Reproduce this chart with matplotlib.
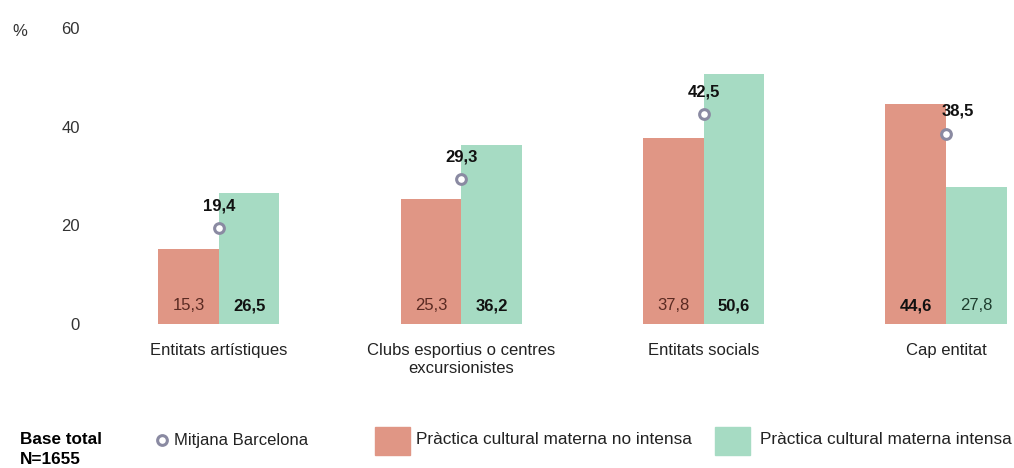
import matplotlib.pyplot as plt
from matplotlib.patches import Rectangle
from matplotlib.lines import Line2D

plt.rcParams['font.family'] = ['Liberation Sans', 'DejaVu Sans']

# dades
categories = ['Entitats artístiques', 'Clubs esportius o centres\nexcursionistes',
              'Entitats socials', 'Cap entitat']
no_intensa = [15.3, 25.3, 37.8, 44.6]
intensa = [26.5, 36.2, 50.6, 27.8]
mitjana = [19.4, 29.3, 42.5, 38.5]

c_red = '#E09685'
c_green = '#A6DBC3'
c_mark = '#8A8AA2'

fig = plt.figure(figsize=(10.14, 4.68), dpi=100)
ax = fig.add_axes([95/1014, 144/468, 915/1014, 296/468])

w = 0.25
x = list(range(len(categories)))
ax.bar([i - w/2 for i in x], no_intensa, w, color=c_red)
ax.bar([i + w/2 for i in x], intensa, w, color=c_green)
ax.plot(x, mitjana, 'o', ms=7, mfc='white', mec=c_mark, mew=2.2, ls='none')

def fmt(v):
    return ('%.1f' % v).replace('.', ',')

for i in x:
    a, b = no_intensa[i], intensa[i]
    ax.text(i - w/2, 3.7, fmt(a), ha='center', va='center', fontsize=12,
            fontweight='bold' if a > b else 'normal',
            color='#111111' if a > b else '#5a2a22')
    ax.text(i + w/2, 3.7, fmt(b), ha='center', va='center', fontsize=12,
            fontweight='bold' if b > a else 'normal',
            color='#111111' if b > a else '#1e3d2e')
    ax.text(i + (0.05 if i == 3 else 0), mitjana[i] + 4.6, fmt(mitjana[i]),
            ha='center', va='center', fontsize=12, fontweight='bold', color='#111111')

ax.set_xlim(-0.511, 3.264)
ax.set_ylim(0, 60)
ax.set_yticks([0, 20, 40, 60])
ax.set_xticks(x)
ax.set_xticklabels(categories, fontsize=12, color='#222222', va='top', linespacing=1.25)
ax.tick_params(axis='x', length=0, pad=14)
ax.tick_params(axis='y', length=0, pad=11, labelsize=12, labelcolor='#333333')
for s in ax.spines.values():
    s.set_visible(False)

fig.text(12/1014, 1 - 31/468, '%', fontsize=12, color='#333333', va='center')

# llegenda
fig.text(20/1014, 1 - 440/468, 'Base total', fontsize=12.3, fontweight='bold', va='center')
fig.text(20/1014, 1 - 460/468, 'N=1655', fontsize=12.3, fontweight='bold', va='center')
fig.add_artist(Line2D([162/1014], [1 - 440/468], marker='o', ms=7, mfc='white',
                      mec=c_mark, mew=2.2, transform=fig.transFigure))
fig.text(174/1014, 1 - 440/468, 'Mitjana Barcelona', fontsize=12, va='center', color='#222222')
fig.add_artist(Rectangle((375/1014, 1 - 455/468), 35/1014, 28/468,
                         color=c_red, transform=fig.transFigure))
fig.text(416/1014, 1 - 440/468, 'Pràctica cultural materna no intensa', fontsize=12.4,
         va='center', color='#222222')
fig.add_artist(Rectangle((715/1014, 1 - 455/468), 35/1014, 28/468,
                         color=c_green, transform=fig.transFigure))
fig.text(760/1014, 1 - 440/468, 'Pràctica cultural materna intensa', fontsize=12.4,
         va='center', color='#222222')

fig.savefig('out.png', dpi=100)
